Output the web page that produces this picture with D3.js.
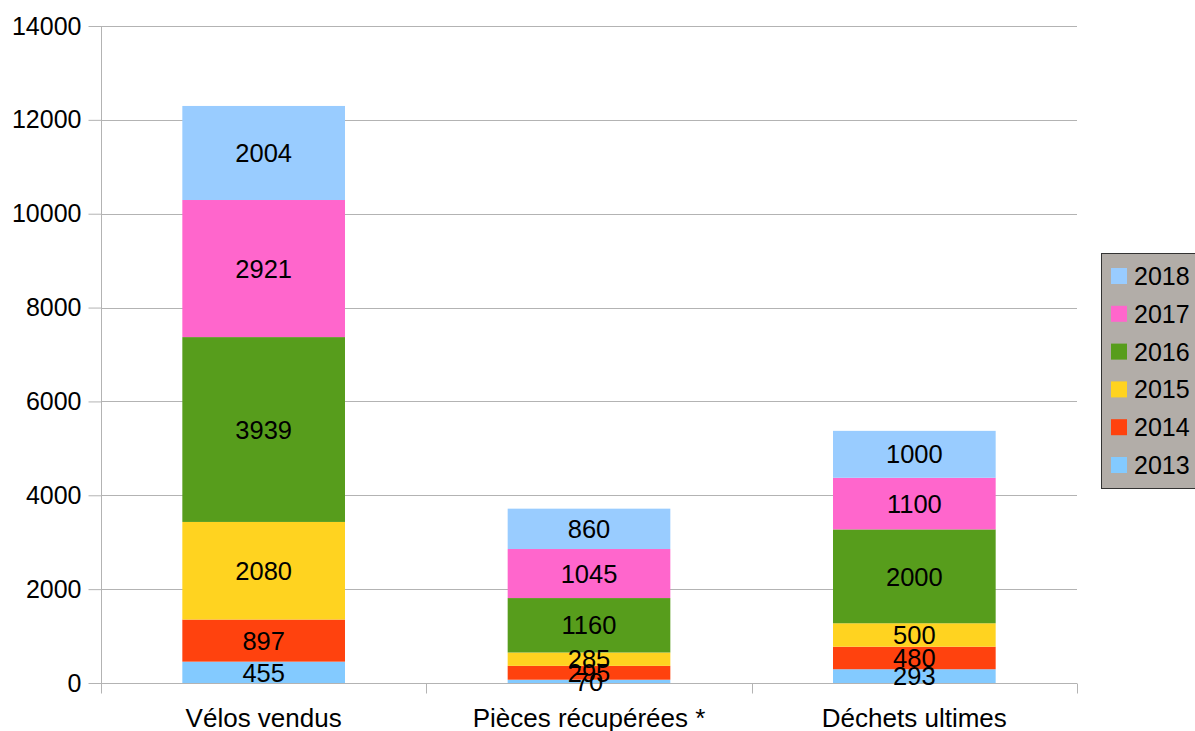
<!DOCTYPE html>
<html>
<head>
<meta charset="utf-8">
<script src="https://cdn.jsdelivr.net/npm/d3@7"></script>
<style>
  body { margin: 0; background: #fff; }
  svg { display: block; font-family: "Liberation Sans", Arial, sans-serif; }
</style>
</head>
<body>
<svg id="chart" width="1195" height="731"></svg>
<script>
const categories = ["Vélos vendus", "Pièces récupérées *", "Déchets ultimes"];
const years = ["2013", "2014", "2015", "2016", "2017", "2018"];
const v2013 = [455, 70, 293];
const v2014 = [897, 295, 480];
const v2015 = [2080, 285, 500];
const v2016 = [3939, 1160, 2000];
const v2017 = [2921, 1045, 1100];
const v2018 = [2004, 860, 1000];
const yTicks = [0, 2000, 4000, 6000, 8000, 10000, 12000, 14000];
const colors = ["#83CAFF", "#FF420E", "#FFD320", "#579D1C", "#FF66CC", "#99CCFF"];

const seriesValues = [v2013, v2014, v2015, v2016, v2017, v2018];
const table = categories.map((c, i) => {
  const row = { cat: c };
  years.forEach((y, k) => row[y] = seriesValues[k][i]);
  return row;
});
const stacked = d3.stack().keys(years)(table);

const svg = d3.select("#chart");
const pLeft = 101, pRight = 1077, pTop = 26, pBottom = 683;

const x = d3.scaleBand().domain(categories).range([pLeft, pRight]).paddingInner(0.5).paddingOuter(0.25);
const xb = d3.scaleBand().domain(categories).range([pLeft, pRight]);
const y = d3.scaleLinear().domain([0, 14000]).range([pBottom, pTop]);

// gridlines
svg.append("g").selectAll("line").data(yTicks).join("line")
  .attr("x1", pLeft).attr("x2", pRight)
  .attr("y1", d => Math.round(y(d)) + 0.5).attr("y2", d => Math.round(y(d)) + 0.5)
  .attr("stroke", "#b3b3b3").attr("stroke-width", 1);

// y axis
const yAxis = svg.append("g").attr("transform", `translate(${pLeft + 0.5},0)`)
  .call(d3.axisLeft(y).tickValues(yTicks).tickSize(13).tickPadding(7).tickFormat(d3.format("d")));
yAxis.select(".domain").attr("stroke", "#b3b3b3").attr("d", `M0,${pTop}V${pBottom}`);
yAxis.selectAll(".tick line").attr("stroke", "#b3b3b3");
yAxis.selectAll("text").attr("font-size", 25).attr("fill", "#000").attr("font-family", "Liberation Sans, Arial, sans-serif");

// x axis
const xAxis = svg.append("g").attr("transform", `translate(0,${pBottom + 0.5})`);
xAxis.append("line").attr("x1", pLeft).attr("x2", pRight).attr("y1", 0).attr("y2", 0)
  .attr("stroke", "#b3b3b3");
const bounds = categories.map(c => xb(c)).concat([pRight]);
xAxis.selectAll("line.tk").data(bounds).join("line").attr("class", "tk")
  .attr("x1", d => Math.round(d) + 0.5).attr("x2", d => Math.round(d) + 0.5).attr("y1", 0).attr("y2", 10)
  .attr("stroke", "#b3b3b3");
xAxis.selectAll("text").data(categories).join("text")
  .attr("x", d => x(d) + x.bandwidth() / 2).attr("y", 43)
  .attr("text-anchor", "middle").attr("font-size", 26).attr("fill", "#000")
  .text(d => d);

// bars
const groups = svg.append("g").selectAll("g").data(stacked).join("g")
  .attr("fill", (d, i) => colors[i]);
groups.selectAll("rect").data(d => d).join("rect")
  .attr("x", d => x(d.data.cat)).attr("width", x.bandwidth())
  .attr("y", d => y(d[1])).attr("height", d => y(d[0]) - y(d[1]));

// labels
const lg = svg.append("g");
stacked.forEach((s, k) => {
  lg.selectAll(null).data(s).join("text")
    .attr("x", d => x(d.data.cat) + x.bandwidth() / 2)
    .attr("y", d => (y(d[0]) + y(d[1])) / 2)
    .attr("dy", "0.36em")
    .attr("text-anchor", "middle").attr("font-size", 25.5).attr("fill", "#000")
    .text(d => d[1] - d[0]);
});

// legend
const leg = svg.append("g");
leg.append("rect").attr("x", 1101.5).attr("y", 253.5).attr("width", 110).attr("height", 235)
  .attr("fill", "#B2ADA8").attr("stroke", "#333").attr("stroke-width", 1);
const legItems = years.slice().reverse();
const ly = d3.scalePoint().domain(legItems).range([276, 465]);
leg.selectAll("rect.sw").data(legItems).join("rect").attr("class", "sw")
  .attr("x", 1111).attr("y", d => ly(d) - 8).attr("width", 16).attr("height", 16)
  .attr("fill", d => colors[years.indexOf(d)]);
leg.selectAll("text").data(legItems).join("text")
  .attr("x", 1134).attr("y", d => ly(d)).attr("dy", "0.36em")
  .attr("font-size", 25).attr("fill", "#000").text(d => d);
</script>
</body>
</html>
